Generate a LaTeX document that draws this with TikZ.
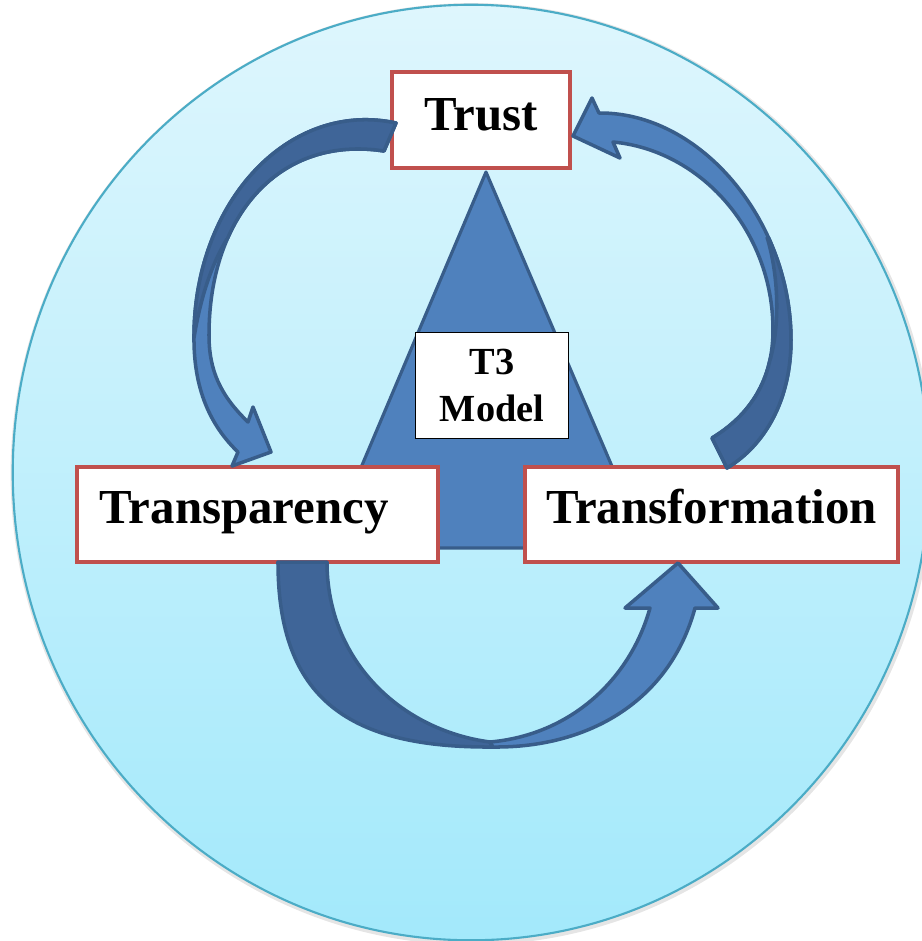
\documentclass[tikz,border=0pt]{standalone}
\usepackage{fontspec}
\setmainfont{Liberation Serif}
\usepackage{tikz}
\usetikzlibrary{positioning,calc}

\definecolor{ringline}{HTML}{4BACC6}
\definecolor{skytop}{HTML}{DEF6FD}
\definecolor{skybottom}{HTML}{A3E9FB}
\definecolor{boxred}{HTML}{C0504D}
\definecolor{arrowfill}{HTML}{4F81BD}
\definecolor{arrowdark}{HTML}{3F6598}
\definecolor{arrowline}{HTML}{385D8A}

\tikzset{
  tbox/.style={rectangle,draw=boxred,line width=1.2pt,fill=white,inner sep=0pt,
    text height=0.34cm,text depth=0.17cm,font=\fontsize{13.9}{16}\selectfont\bfseries},
  modelbox/.style={rectangle,draw=black,line width=0.5pt,fill=white,inner sep=0pt,
    align=center,font=\fontsize{10.9}{13.4}\selectfont\bfseries},
  blockarrow/.style={fill=arrowfill,draw=arrowline,line width=1pt,line join=round},
  blockback/.style={fill=arrowdark,draw=arrowline,line width=1pt,line join=round},
  twist/.style={draw=arrowline,line width=1pt},
}

\begin{document}
\begin{tikzpicture}[x=0.01cm,y=-0.01cm]
\useasboundingbox (0,0) rectangle (922,941);

% background disc
\draw[black!10,line width=1.5pt] (472,474) ellipse [x radius=4.585cm,y radius=4.68cm];
\draw[ringline,line width=0.6pt,top color=skytop,bottom color=skybottom] (471,472.5) ellipse [x radius=4.58cm,y radius=4.675cm];

% pyramid
\draw[blockarrow,line width=0.9pt] (486,172) -- (647,548) -- (327,548) -- cycle;

\node (trust) at (481,120)[tbox,minimum width=1.78cm,minimum height=0.96cm,text depth=0.14cm] {Trust};
\node (transp) at (257.5,514.5)[tbox,minimum height=0.95cm,text width=3.15cm,inner xsep=0.23cm,align=left] {Transparency};
\node (transf) at (711.5,514.5)[tbox,minimum width=3.73cm,minimum height=0.95cm] {Transformation};
\node (model) at (492,385.5)[modelbox,minimum width=1.53cm,minimum height=1.06cm] {T3\\Model};

% trust -> transparency
\draw[blockarrow] (396,123) .. controls (290,100) and (195,200) .. (194,335)
  .. controls (193,395) and (215,430) .. (238,452)
  -- (232,466) -- (271,452) -- (253,407) -- (248,422)
  .. controls (220,395) and (209,370) .. (209,335)
  .. controls (209,215) and (280,135) .. (384,151) -- cycle;
\begin{scope}
\clip (227,239) .. controls (211,265) and (200,300) .. (194,338) -- (100,338) -- (100,0) -- (420,0) -- (420,239) -- cycle;
\draw[blockback] (396,123) .. controls (290,100) and (195,200) .. (194,335)
  .. controls (193,395) and (215,430) .. (238,452)
  -- (248,422)
  .. controls (220,395) and (209,370) .. (209,335)
  .. controls (209,215) and (280,135) .. (384,151) -- cycle;
\end{scope}
\draw[twist] (227,239) .. controls (211,265) and (200,300) .. (194,338);

% transformation -> trust
\draw[blockarrow] (727,468) .. controls (765,445) and (791,400) .. (791,340)
  .. controls (791,220) and (700,112) .. (599,113)
  -- (592,98) -- (573,136) -- (620,158) -- (613,142)
  .. controls (700,150) and (773,230) .. (773,330)
  .. controls (773,380) and (750,415) .. (712,438) -- cycle;
\begin{scope}
\clip (767,237) .. controls (780,280) and (779,330) .. (770,360) -- (600,360) -- (600,520) -- (900,520) -- (900,237) -- cycle;
\draw[blockback] (727,468) .. controls (765,445) and (791,400) .. (791,340)
  .. controls (791,220) and (700,112) .. (599,113)
  -- (613,142)
  .. controls (700,150) and (773,230) .. (773,330)
  .. controls (773,380) and (750,415) .. (712,438) -- cycle;
\end{scope}
\draw[twist] (767,237) .. controls (780,280) and (779,330) .. (770,360);

% transparency -> transformation
\draw[blockback] (278,562) .. controls (278,700) and (350,748) .. (493,747)
  -- (490,742)
  .. controls (400,730) and (327,660) .. (327,562) -- cycle;
\draw[blockarrow] (490,742) .. controls (570,735) and (630,680) .. (650,608)
  -- (625,608) -- (678,563) -- (718,608) -- (695,608)
  .. controls (670,700) and (590,748) .. (493,747) -- cycle;

\end{tikzpicture}
\end{document}
